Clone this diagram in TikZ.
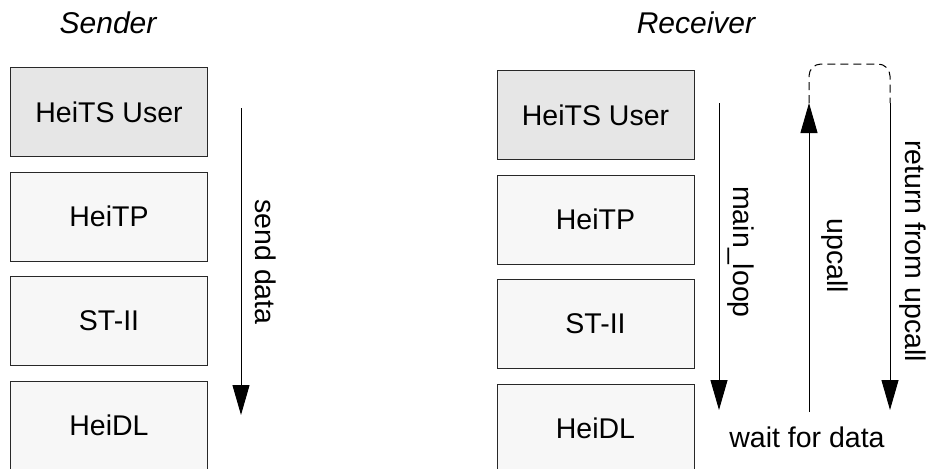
\documentclass[tikz,border=0pt]{standalone}
\usepackage{fontspec}
\setmainfont{Liberation Sans}
\usepackage{tikz}
\usetikzlibrary{arrows.meta, positioning}
\definecolor{cTop}{RGB}{230,230,230}
\definecolor{cLayer}{RGB}{247,247,247}
\definecolor{cEdge}{RGB}{40,40,40}
\tikzset{
	layer/.style    ={rectangle, draw=cEdge, line width=1pt, minimum width=197pt, minimum height=89pt, align=center, fill=cLayer, font=\fontsize{28.5}{30}\selectfont},
	toplayer/.style ={layer, fill=cTop},
	title/.style    ={font=\fontsize{30}{32}\selectfont\itshape},
	lbl/.style      ={inner sep=0pt, font=\fontsize{28.5}{30}\selectfont},
	vlbl/.style     ={lbl, rotate=-90},
	callarrow/.style={-{Triangle[length=30pt, width=17pt]}, line width=1pt},
	loopline/.style ={dashed, dash pattern=on 8pt off 5pt, line width=1pt, rounded corners=12pt},
}

\begin{document}
\begin{tikzpicture}[x=1pt, y=-1pt]
	\useasboundingbox (0,0) rectangle (930,469);
	% sender stack
	\node[title] (sTitle) at (108,22.5) {Sender};
	\node[toplayer] (sUser) at (109,112) {HeiTS User};
	\node[layer, below=14.5pt of sUser] (sTP) {HeiTP};
	\node[layer, below=14.5pt of sTP] (sST) {ST-II};
	\node[layer, below=14.5pt of sST] (sDL) {HeiDL};
	\coordinate (sendTop) at (241,108);
	\coordinate (sendBot) at (241,415);
	\draw[callarrow] (sendTop) -- (sendBot);
	\node[vlbl] (sendLbl) at (266,262) {send data};
	% receiver stack
	\node[title] (rTitle) at (696,22.5) {Receiver};
	\node[toplayer] (rUser) at (595.5,115) {HeiTS User};
	\node[layer, below=14.5pt of rUser] (rTP) {HeiTP};
	\node[layer, below=14.5pt of rTP] (rST) {ST-II};
	\node[layer, below=14.5pt of rST] (rDL) {HeiDL};
	\coordinate (loopTop) at (719,103);
	\coordinate (loopBot) at (719,410);
	\coordinate (upBot) at (809,412);
	\coordinate (upTop) at (809,103);
	\coordinate (retTop) at (890,103);
	\coordinate (retBot) at (890,410);
	\coordinate (turn) at (850,64);
	\draw[callarrow] (loopTop) -- (loopBot);
	\draw[callarrow] (upBot) -- (upTop);
	\draw[loopline] (upTop) |- (turn) -| (retTop);
	\draw[callarrow] (retTop) -- (retBot);
	\node[vlbl] (loopLbl) at (740.5,252) {main\_loop};
	\node[vlbl] (upLbl) at (835,256) {upcall};
	\node[vlbl] (retLbl) at (912.5,251) {return from upcall};
	\node[lbl] (waitLbl) at (807,437) {wait for data};
\end{tikzpicture}
\end{document}
